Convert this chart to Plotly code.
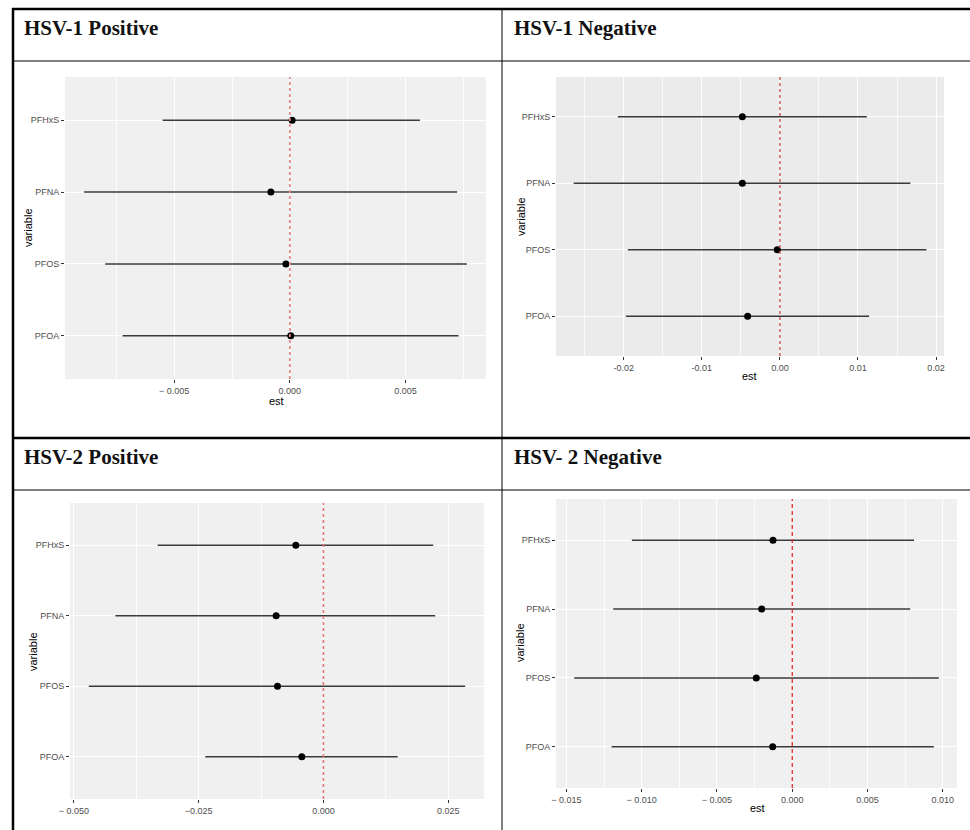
import plotly.graph_objects as go

W, H = 970, 830

variables = ["PFOA", "PFOS", "PFNA", "PFHxS"]

titles = ["HSV-1 Positive", "HSV-1 Negative", "HSV-2 Positive", "HSV- 2 Negative"]

hsv1_pos_est = [0.00004, -0.00017, -0.00082, 0.0001]
hsv1_pos_lo = [-0.00723, -0.00798, -0.00889, -0.0055]
hsv1_pos_hi = [0.00729, 0.00765, 0.00723, 0.00562]

hsv1_neg_est = [-0.00413, -0.00034, -0.00481, -0.00481]
hsv1_neg_lo = [-0.01973, -0.01948, -0.02642, -0.02075]
hsv1_neg_hi = [0.01143, 0.01876, 0.01671, 0.01113]

hsv2_pos_est = [-0.00433, -0.0092, -0.00947, -0.00553]
hsv2_pos_lo = [-0.02367, -0.047, -0.04167, -0.0332]
hsv2_pos_hi = [0.01487, 0.0284, 0.0224, 0.022]

hsv2_neg_est = [-0.0013, -0.00239, -0.00203, -0.00128]
hsv2_neg_lo = [-0.012, -0.01448, -0.01189, -0.01065]
hsv2_neg_hi = [0.0094, 0.00973, 0.00783, 0.00809]

tick_vals_1 = [-0.005, 0.0, 0.005]
tick_text_1 = ["\u2212 0.005", "0.000", "0.005"]
tick_vals_2 = [-0.02, -0.01, 0.0, 0.01, 0.02]
tick_text_2 = ["-0.02", "-0.01", "0.00", "0.01", "0.02"]
tick_vals_3 = [-0.05, -0.025, 0.0, 0.025]
tick_text_3 = ["\u2212 0.050", "\u22120.025", "0.000", "0.025"]
tick_vals_4 = [-0.015, -0.01, -0.005, 0.0, 0.005, 0.01]
tick_text_4 = ["\u2212 0.015", "\u2212 0.010", "\u2212 0.005", "0.000", "0.005", "0.010"]

# panel specs: data, ticks, pixel box (left, top, right, bottom), styling
panels = [
    dict(est=hsv1_pos_est, lo=hsv1_pos_lo, hi=hsv1_pos_hi, tv=tick_vals_1, tt=tick_text_1,
         minor=0.0025, box=(65, 77, 486, 379), bg="#F0F0F0",
         zl=dict(color="#E38C8C", dash="dot", width=1.8),
         var_xy=(28, 228), est_xy=(276, 401)),
    dict(est=hsv1_neg_est, lo=hsv1_neg_lo, hi=hsv1_neg_hi, tv=tick_vals_2, tt=tick_text_2,
         minor=0.005, box=(556, 77, 944, 356), bg="#EBEBEB",
         zl=dict(color="#C84848", dash="3px,3px", width=1.3),
         var_xy=(521, 217), est_xy=(749, 376)),
    dict(est=hsv2_pos_est, lo=hsv2_pos_lo, hi=hsv2_pos_hi, tv=tick_vals_3, tt=tick_text_3,
         minor=0.0125, box=(70, 503, 484, 799), bg="#F0F0F0",
         zl=dict(color="#E07878", dash="dot", width=1.6),
         var_xy=(33, 652), est_xy=None),
    dict(est=hsv2_neg_est, lo=hsv2_neg_lo, hi=hsv2_neg_hi, tv=tick_vals_4, tt=tick_text_4,
         minor=0.0025, box=(556, 499, 957, 788), bg="#F0F0F0",
         zl=dict(color="#DD2E2E", dash="4px,3px", width=1.3),
         var_xy=(520, 643), est_xy=(757, 808)),
]

fig = go.Figure()
layout = {}
shapes = []
annotations = []

tick_font = dict(family="Liberation Sans, Arial, sans-serif", size=9, color="#4D4D4D")
title_font = dict(family="Liberation Sans, Arial, sans-serif", size=11, color="#000000")

for i, p in enumerate(panels):
    n = "" if i == 0 else str(i + 1)
    xa, ya = "x" + n, "y" + n
    l, t, r, b = p["box"]
    lo_all, hi_all = min(p["lo"]), max(p["hi"])
    span = hi_all - lo_all
    xr = [lo_all - 0.05 * span, hi_all + 0.05 * span]

    fig.add_trace(go.Scatter(
        x=p["est"], y=variables, xaxis=xa, yaxis=ya, mode="markers",
        marker=dict(color="black", size=7),
        error_x=dict(type="data", symmetric=False,
                     array=[h - e for h, e in zip(p["hi"], p["est"])],
                     arrayminus=[e - lo for e, lo in zip(p["est"], p["lo"])],
                     color="#3A3A3A", thickness=1.5, width=0),
        showlegend=False, hoverinfo="skip"))

    layout["xaxis" + n] = dict(
        domain=[l / W, r / W], anchor=ya, range=xr, automargin=False,
        tickmode="array", tickvals=p["tv"], ticktext=p["tt"],
        tickfont=tick_font, ticks="outside", ticklen=3, tickcolor="#333333",
        showgrid=True, gridcolor="white", gridwidth=1.1, zeroline=False,
        showline=False,
        minor=dict(tickmode="linear", tick0=0, dtick=p["minor"], showgrid=True,
                   gridcolor="rgba(255,255,255,0.8)", gridwidth=0.5, ticks=""),
        fixedrange=True)
    layout["yaxis" + n] = dict(
        domain=[1 - b / H, 1 - t / H], anchor=xa, type="category", automargin=False,
        categoryorder="array", categoryarray=variables, range=[-0.6, 3.6],
        tickfont=tick_font, ticks="outside", ticklen=3, tickcolor="#333333",
        showgrid=True, gridcolor="white", gridwidth=1.1, zeroline=False,
        showline=False, fixedrange=True)

    shapes.append(dict(type="rect", xref=xa + " domain", yref=ya + " domain",
                       x0=0, x1=1, y0=0, y1=1, fillcolor=p["bg"],
                       line=dict(width=0), layer="below"))
    shapes.append(dict(type="line", xref=xa, yref=ya + " domain",
                       x0=0, x1=0, y0=0, y1=1, line=p["zl"], layer="above"))

    vx, vy = p["var_xy"]
    annotations.append(dict(text="variable", xref="paper", yref="paper",
                            x=vx / W, y=1 - vy / H, showarrow=False, textangle=-90,
                            font=title_font, xanchor="center", yanchor="middle"))
    if p["est_xy"] is not None:
        ex, ey = p["est_xy"]
        annotations.append(dict(text="est", xref="paper", yref="paper",
                                x=ex / W, y=1 - ey / H, showarrow=False,
                                font=title_font, xanchor="center", yanchor="middle"))

# panel headers
header_pos = [(22, 28), (512, 28), (22, 457), (512, 457)]
for (hx, hy), txt in zip(header_pos, titles):
    annotations.append(dict(text="<b>" + txt + "</b>", xref="paper", yref="paper",
                            x=hx / W, y=1 - hy / H, showarrow=False,
                            xanchor="left", yanchor="middle",
                            font=dict(family="Liberation Serif, Times New Roman, serif",
                                      size=21, color="#111111")))

# table rules
def hline(y, x0, x1, w):
    shapes.append(dict(type="line", xref="paper", yref="paper",
                       x0=x0 / W, x1=x1 / W, y0=1 - y / H, y1=1 - y / H,
                       line=dict(color="black", width=w), layer="above"))

def vline(x, y0, y1, w):
    shapes.append(dict(type="line", xref="paper", yref="paper",
                       x0=x / W, x1=x / W, y0=1 - y0 / H, y1=1 - y1 / H,
                       line=dict(color="black", width=w), layer="above"))

hline(9, 12, 970, 2.5)
hline(61, 13, 970, 1)
hline(438, 13, 970, 2.5)
hline(490, 13, 970, 1)
vline(13, 8, 830, 2.5)
vline(502, 9, 830, 1)

fig.update_layout(
    width=W, height=H, margin=dict(l=0, r=0, t=0, b=0, autoexpand=False),
    paper_bgcolor="white", plot_bgcolor="rgba(0,0,0,0)",
    shapes=shapes, annotations=annotations, showlegend=False, **layout)

fig.write_html("out.html", config={"displayModeBar": False})
